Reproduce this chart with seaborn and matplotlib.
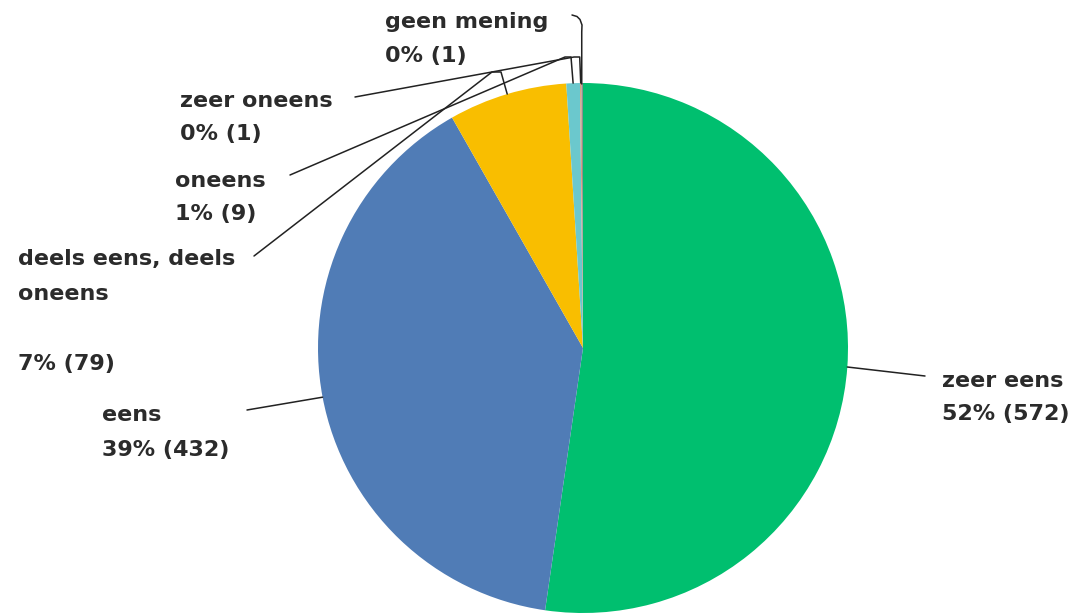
import numpy as np
import matplotlib
matplotlib.use("Agg")
import matplotlib.pyplot as plt
import seaborn as sns

categories = ["zeer eens", "eens", "deels eens, deels\noneens\n", "oneens", "zeer oneens", "geen mening"]
counts = [572, 432, 79, 9, 1, 1]
pct_labels = ["52%", "39%", "7%", "1%", "0%", "0%"]
colors = ["#00BF6F", "#507CB6", "#F9BE00", "#6BC8CD", "#D9A07E", "#8E8E8E"]

sns.set_theme(style="white")
plt.rcParams["font.family"] = ["DejaVu Sans"]

W, H = 1073, 616
fig = plt.figure(figsize=(W / 100, H / 100), dpi=100)
ax = fig.add_axes([0, 0, 1, 1])

def P(x, y):
    return x, H - y

cx, cy = P(583, 348)
R = 265
wedges, _ = ax.pie(counts, colors=colors, startangle=90, counterclock=False,
                   center=(cx, cy), radius=R, frame=True,
                   wedgeprops=dict(linewidth=0))
ax.set_xlim(0, W)
ax.set_ylim(0, H)
ax.set_aspect("equal")
ax.axis("off")

def anchor(i, rr=1.0):
    w = wedges[i]
    a = np.deg2rad((w.theta1 + w.theta2) / 2)
    return cx + R * rr * np.cos(a), cy + R * rr * np.sin(a)

txt = dict(fontsize=16, color="#2b2b2b", ha="left", va="baseline", fontweight="bold")
lc = dict(color="#222222", lw=1.1, solid_capstyle="round")

def label(i, x, y0, step=34):
    lines = categories[i].split("\n") + [f"{pct_labels[i]} ({counts[i]})"]
    for k, s in enumerate(lines):
        if s:
            ax.text(*P(x, y0 + k * step), s, **txt)

# zeer eens
label(0, 942, 387, 33)
ax_, ay_ = anchor(0)
ax.plot([ax_, 925], [ay_, H - 376], **lc)

# eens
label(1, 102, 421, 35)
ax_, ay_ = anchor(1)
ax.plot([ax_, 247], [ay_, H - 410], **lc)

# deels eens
label(2, 18, 265, 35)
ax_, ay_ = anchor(2)
ax.plot([254, 492, 501, ax_], [H - 256, H - 72, H - 72, ay_], **lc)

# oneens
label(3, 175, 187, 33)
ax_, ay_ = anchor(3)
ax.plot([290, 565, 571, ax_], [H - 175, H - 57, H - 57, ay_], **lc)

# zeer oneens
label(4, 180, 107, 33)
ax_, ay_ = anchor(4)
ax.plot([355, 574, ax_ - 1, ax_], [H - 97, H - 57, H - 57, ay_], **lc)

# geen mening
label(5, 385, 28, 34)
ax_, ay_ = anchor(5)
xs = [572, 577, 580, 582, ax_ - 0.5, ax_ - 0.5]
ys = [15, 16.5, 19.5, 25, 32, 84]
ax.plot(xs, [H - v for v in ys], **lc)

fig.savefig("out.png", dpi=100)
